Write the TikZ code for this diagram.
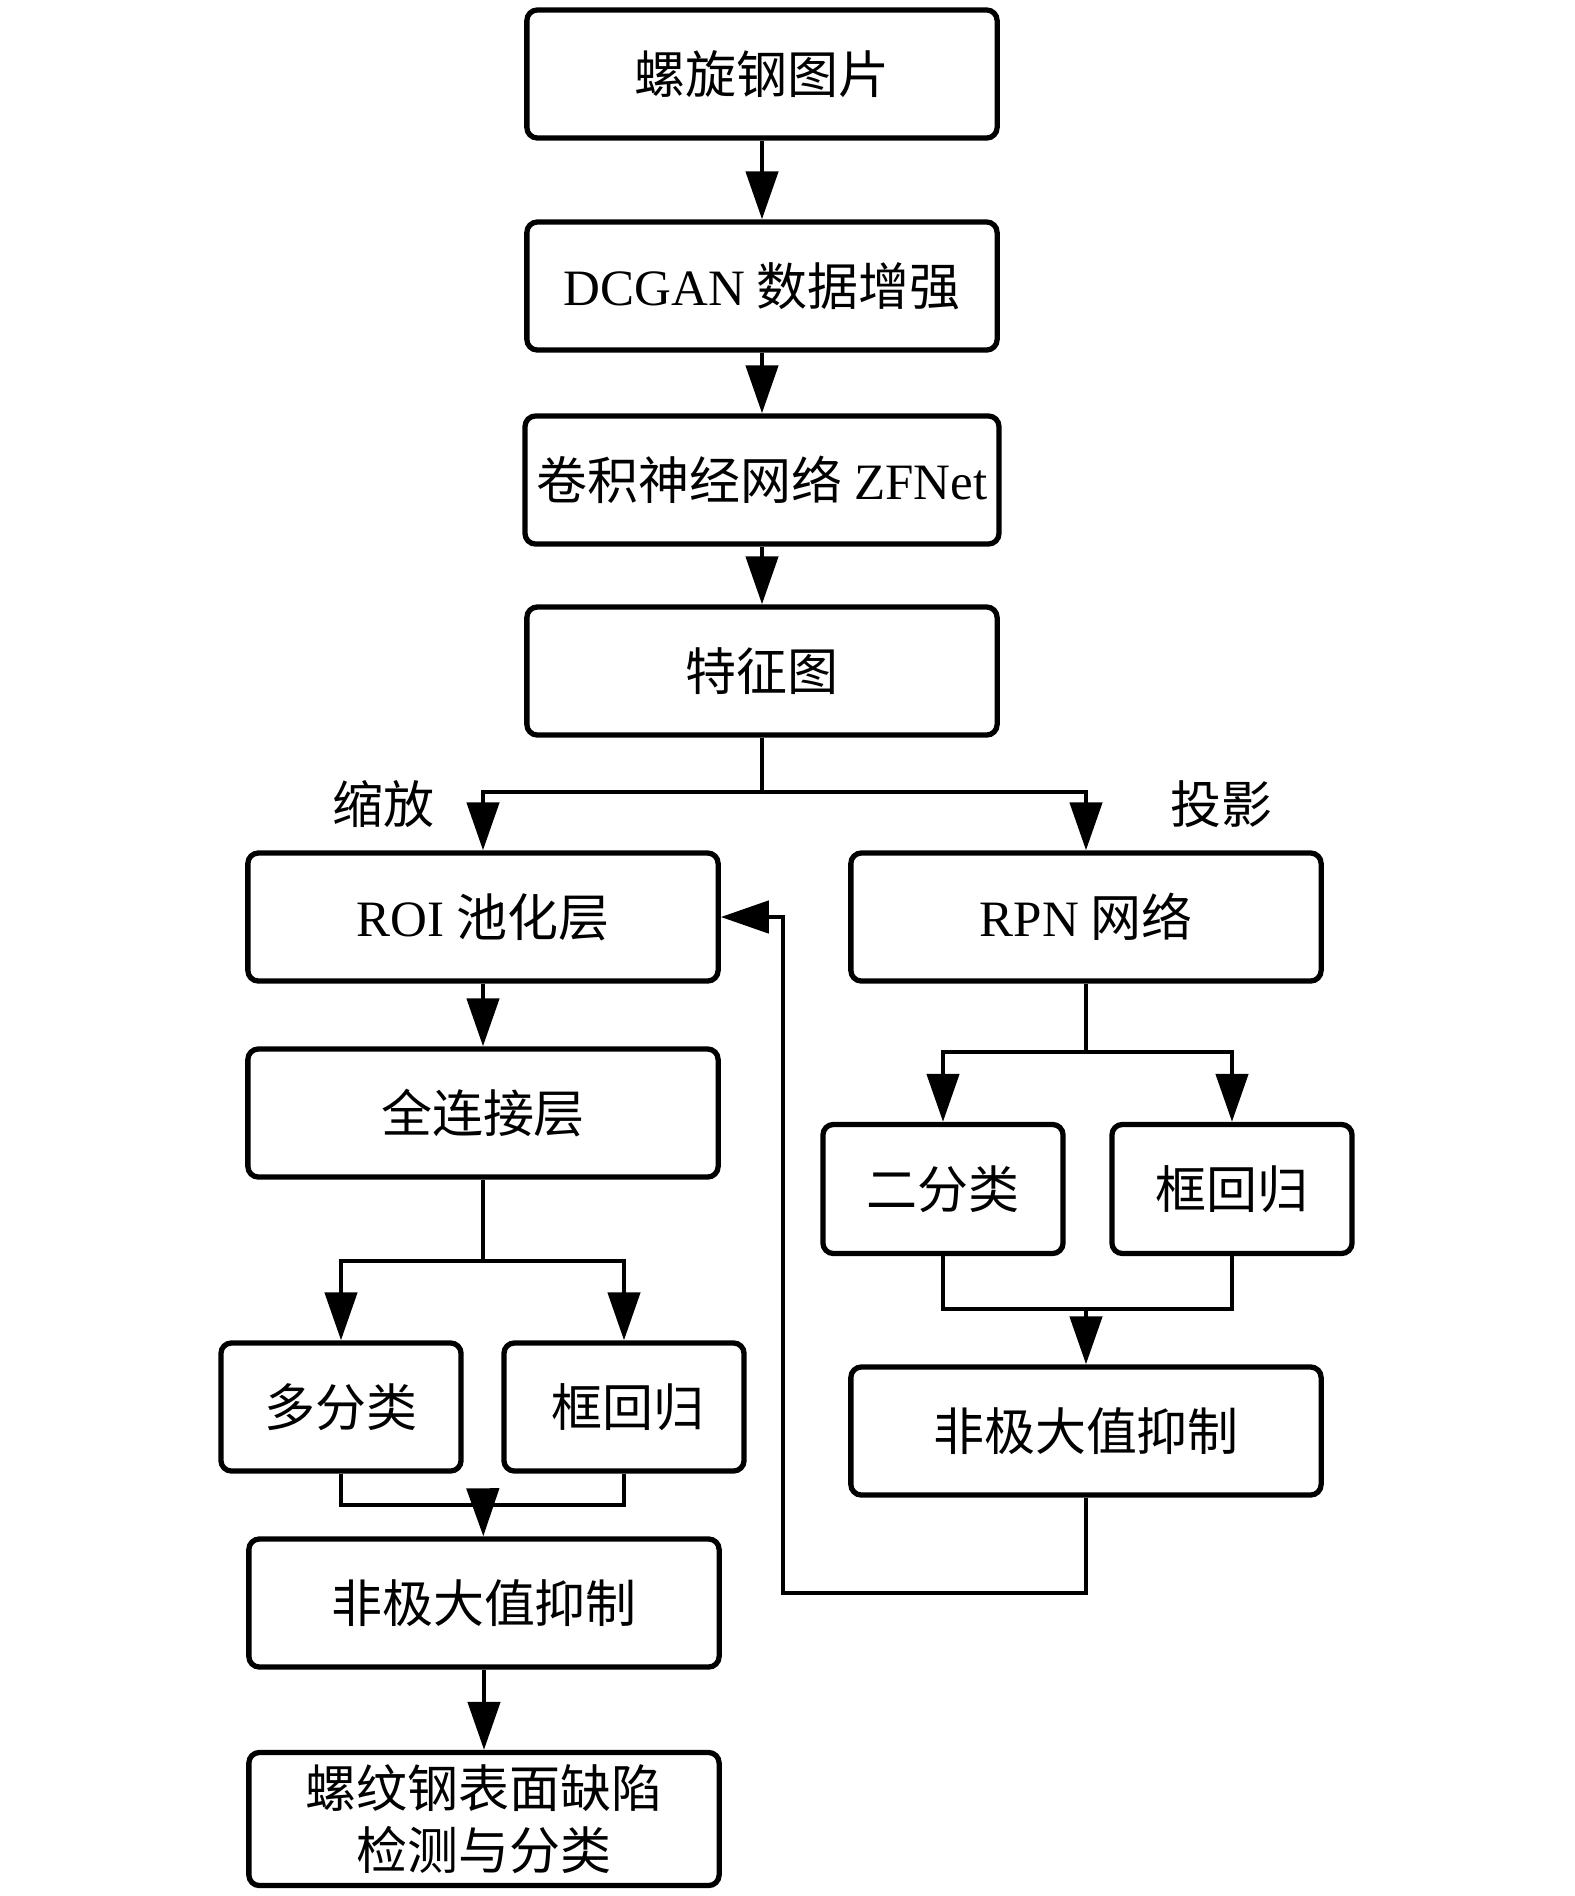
\documentclass[tikz,border=0pt]{standalone}
\usepackage{fontspec}
\setmainfont{Liberation Serif}
\newfontfamily\cjk{Noto Sans CJK SC}
\usepackage{tikz}
\usetikzlibrary{arrows.meta}

\tikzset{
  box/.style={draw, line width=1.5pt, rounded corners=3pt, minimum width=4.7cm,
    minimum height=1.28cm, align=center, font=\fontsize{14.5}{17.5}\selectfont\cjk},
  smallbox/.style={box, minimum width=2.4cm},
  lbl/.style={font=\fontsize{14.5}{17.5}\selectfont\cjk},
  line/.style={line width=1.3pt},
  arr/.style={line, -{Triangle[length=4.8mm,width=3.2mm]}},
}

\begin{document}
\begin{tikzpicture}[x=0.01cm, y=-0.01cm]
\useasboundingbox (0,0) rectangle (1575,1896);

% main column
\node [box] (pic) at (762,74) {螺旋钢图片};
\node [box] (gan) at (762,286) {\textrm{DCGAN} 数据增强};
\node [box] (cnn) at (762,480) {卷积神经网络 \textrm{ZFNet}};
\node [box] (feat) at (762,671) {特征图};

% two branches
\node [box] (roi) at (483,917) {\textrm{ROI} 池化层};
\node [box] (rpn) at (1086,917) {\textrm{RPN} 网络};
\node [lbl] (scale) at (383,804) {缩放};
\node [lbl] (proj) at (1221,804) {投影};

\node [box] (fc) at (483,1113) {全连接层};
\node [smallbox] (multi) at (341,1407) {多分类};
\node [smallbox] (regl) at (624,1407) {\,框回归};
\node [box] (nmsl) at (484,1603) {非极大值抑制};
\node [box, minimum height=1.33cm] (out) at (484,1819) {螺纹钢表面缺陷\\检测与分类};

\node [smallbox, minimum height=1.29cm] (cls) at (943,1189) {二分类};
\node [smallbox, minimum height=1.29cm] (regr) at (1232,1189) {框回归};
\node [box] (nmsr) at (1086,1431) {非极大值抑制};

\coordinate (fk) at (762,792);
\coordinate (fk2) at (483,1261);
\coordinate (mg) at (483,1505);
\coordinate (fk3) at (1086,1052);
\coordinate (mg2) at (1086,1309);
\coordinate (back) at (783,1593);

\draw [arr] (pic) -- (gan);
\draw [arr] (gan) -- (cnn);
\draw [arr] (cnn) -- (feat);
\draw [line] (feat) -- (fk);
\draw [arr] (fk) -| (roi.north);
\draw [arr] (fk) -| (rpn.north);

% left branch
\draw [arr] (roi) -- (fc);
\draw [line] (fc) -- (fk2);
\draw [arr] (fk2) -| (multi.north);
\draw [arr] (fk2) -| (regl.north);
\draw [line] (multi.south) |- (mg) -| (regl.south);
\draw [arr] (mg) -- (nmsl);
\draw [arr] (nmsl) -- (out);

% right branch
\draw [line] (rpn) -- (fk3);
\draw [arr] (fk3) -| (cls.north);
\draw [arr] (fk3) -| (regr.north);
\draw [line] (cls.south) |- (mg2) -| (regr.south);
\draw [arr] (mg2) -- (nmsr);
\draw [arr] (nmsr.south) |- (back) |- (roi.east);
\end{tikzpicture}
\end{document}
